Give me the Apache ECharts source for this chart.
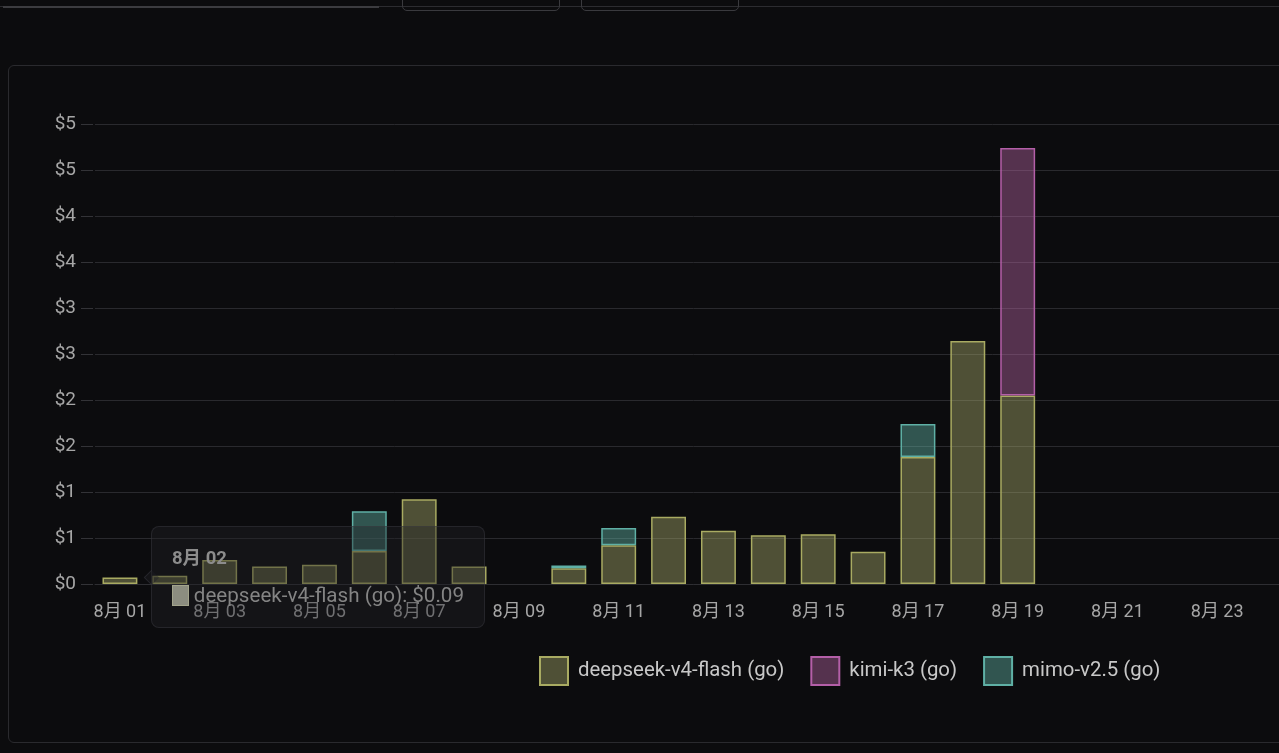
<!DOCTYPE html>
<html>
<head>
<meta charset="utf-8">
<script src="https://cdn.jsdelivr.net/npm/echarts@6/dist/echarts.min.js"></script>
<style>
  html, body { margin: 0; padding: 0; background: #0c0c0e; overflow: hidden; width: 1279px; height: 753px; }
  .topline { position: absolute; left: 0; top: 6px; width: 1279px; height: 1px; background: #2c2c30; }
  .field { position: absolute; left: 3px; top: -20px; width: 376px; height: 26px; border-bottom: 2px solid #3c3c40; }
  .btn { position: absolute; top: -20px; height: 29px; border: 1px solid #3a3a3e; border-radius: 0 0 5px 5px; }
  .panel { position: absolute; left: 8px; top: 65px; width: 1330px; height: 676px; border: 1px solid #2a2a2e; border-radius: 6px; }
  #main { position: absolute; left: 0; top: 0; width: 1330px; height: 753px; }
</style>
</head>
<body>
<div class="topline"></div>
<div class="field"></div>
<div class="btn" style="left:402px;width:156px;"></div>
<div class="btn" style="left:581px;width:156px;"></div>
<div class="panel"></div>
<div id="main"></div>
<script>
// 日期
const dates = ['8月 01', '8月 02', '8月 03', '8月 04', '8月 05', '8月 06', '8月 07', '8月 08',
  '8月 09', '8月 10', '8月 11', '8月 12', '8月 13', '8月 14', '8月 15', '8月 16',
  '8月 17', '8月 18', '8月 19', '8月 20', '8月 21', '8月 22', '8月 23', '8月 24'];

// 各模型每日花費 (USD)
const deepseek = [0.07, 0.09, 0.26, 0.19, 0.21, 0.36, 0.92, 0.19, null, 0.17, 0.42, 0.73,
  0.58, 0.53, 0.54, 0.35, 1.38, 2.64, 2.05, null, null, null, null, null];
const kimi = [null, null, null, null, null, null, null, null, null, null, null, null,
  null, null, null, null, null, null, 2.69, null, null, null, null, null];
const mimo = [null, null, null, null, null, 0.43, null, null, null, 0.03, 0.19, null,
  null, null, null, null, 0.36, null, null, null, null, null, null, null];

const seriesNames = ['deepseek-v4-flash (go)', 'kimi-k3 (go)', 'mimo-v2.5 (go)'];

const font = 'Roboto, "Noto Sans CJK SC", sans-serif';

const chartDom = document.getElementById('main');
const myChart = echarts.init(chartDom);

const makeBar = (name, data, fill, border) => ({
  name: name,
  type: 'bar',
  stack: 'total',
  data: data,
  barCategoryGap: '30%',
  itemStyle: { color: fill, borderColor: border, borderWidth: 1.5 }
});

const option = {
  animation: false,
  backgroundColor: 'transparent',
  textStyle: { fontFamily: font },
  grid: { left: 95, top: 124, width: 1197, height: 460, outerBoundsMode: 'none' },
  legend: {
    left: 534,
    top: 651,
    icon: 'rect',
    itemWidth: 28,
    itemHeight: 28,
    itemGap: 26,
    textStyle: { color: '#c8c8c8', fontSize: 20.4, fontFamily: font, padding: [0, 0, 0, 5] },
    data: seriesNames
  },
  tooltip: {
    trigger: 'item',
    triggerOn: 'none',
    alwaysShowContent: true,
    position: [151, 526],
    backgroundColor: 'rgba(33,33,37,0.4)',
    borderColor: 'rgba(60,60,66,0.45)',
    borderWidth: 1,
    padding: 0,
    extraCssText: 'border-radius:8px;box-shadow:none;',
    formatter: function (p) {
      return '<div style="position:relative;width:292px;padding:20px;font-family:' + font.replace(/"/g, "'") + ';">' +
        '<div style="position:absolute;left:-6px;top:45px;width:10px;height:10px;transform:rotate(45deg);' +
        'border-left:1px solid rgba(60,60,66,0.45);border-bottom:1px solid rgba(60,60,66,0.45);background:rgba(33,33,37,0.4);"></div>' +
        '<div style="font-size:18.5px;font-weight:bold;color:#8c8c8c;line-height:22px;">' + p.name + '</div>' +
        '<div style="margin-top:14px;display:flex;align-items:center;font-size:20.6px;color:#848484;line-height:24px;">' +
        '<span style="display:inline-block;width:17px;height:19px;background:#8c8d80;border:1px solid #a3a48c;margin-right:5px;"></span>' +
        p.seriesName + ': $' + p.value.toFixed(2) + '</div></div>';
    }
  },
  xAxis: {
    type: 'category',
    data: dates,
    axisTick: { show: false },
    axisLine: { lineStyle: { color: '#2e2e32' } },
    axisLabel: { color: '#a6a6a6', fontSize: 18, interval: 1, margin: 20, fontFamily: font }
  },
  yAxis: {
    type: 'value',
    min: 0,
    max: 5,
    interval: 0.5,
    offset: 2,
    axisLine: { show: false },
    axisTick: { show: true, length: 12, lineStyle: { color: '#333337' } },
    splitLine: { lineStyle: { color: '#2a2a2e' } },
    axisLabel: {
      color: '#a6a6a6',
      fontSize: 19,
      margin: 17,
      fontFamily: font,
      formatter: v => '$' + v.toFixed(0)
    }
  },
  series: [
    makeBar(seriesNames[0], deepseek, 'rgba(180,182,114,0.4)', '#a9ab62'),
    makeBar(seriesNames[1], kimi, 'rgba(194,107,176,0.4)', '#b45fa8'),
    makeBar(seriesNames[2], mimo, 'rgba(104,194,179,0.4)', '#5fb0a5')
  ]
};

option && myChart.setOption(option);
myChart.dispatchAction({ type: 'showTip', seriesIndex: 0, dataIndex: 1 });
</script>
</body>
</html>
